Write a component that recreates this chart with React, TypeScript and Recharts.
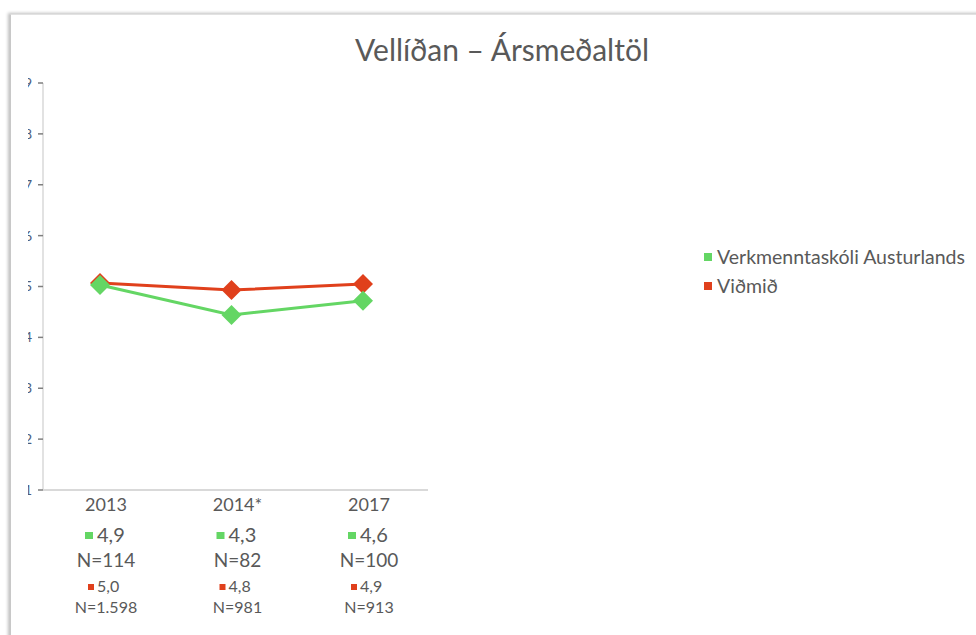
import * as React from 'react';
import { LineChart, Line, XAxis, YAxis } from 'recharts';

const YEARS = ['2013', '2014*', '2017'];
const SCHOOL = [5.03, 4.44, 4.72];
const NORM = [5.07, 4.93, 5.05];
const SCHOOL_LABEL = ['4,9', '4,3', '4,6'];
const SCHOOL_N = ['N=114', 'N=82', 'N=100'];
const NORM_LABEL = ['5,0', '4,8', '4,9'];
const NORM_N = ['N=1.598', 'N=981', 'N=913'];
const Y_TICKS = [1, 2, 3, 4, 5, 6, 7, 8, 9];

const GREEN = '#64d664';
const RED = '#e0401c';
const TEXT = '#595959';
const FONT = 'Lato, "Open Sans", sans-serif';

const chartData = YEARS.map((year, i) => ({
  year,
  school: SCHOOL[i],
  norm: NORM[i],
}));

function Diamond(color: string) {
  return (props: any) => {
    const { cx, cy, index } = props;
    if (cx == null || cy == null) return null;
    const r = 10;
    return (
      <polygon
        key={`d-${index}`}
        points={`${cx},${cy - r} ${cx + r},${cy} ${cx},${cy + r} ${cx - r},${cy}`}
        fill={color}
      />
    );
  };
}

function YearTick(props: any) {
  const { x, y, payload } = props;
  const i = payload.index;
  const cx = x + 6;
  return (
    <g fontFamily={FONT} fill={TEXT}>
      <text x={cx} y={y + 13} textAnchor="middle" fontSize={18}>{payload.value}</text>
      <rect x={cx - 21} y={y + 34} width={8} height={7} fill={GREEN} />
      <text x={cx - 9} y={y + 44} fontSize={20}>{SCHOOL_LABEL[i]}</text>
      <text x={cx} y={y + 69} textAnchor="middle" fontSize={19}>{SCHOOL_N[i]}</text>
      <rect x={cx - 18} y={y + 86} width={6} height={6} fill={RED} />
      <text x={cx - 9} y={y + 94} fontSize={16}>{NORM_LABEL[i]}</text>
      <text x={cx} y={y + 115} textAnchor="middle" fontSize={16}>{NORM_N[i]}</text>
    </g>
  );
}

export default function App(): React.ReactElement {
  return (
    <div style={{ position: 'absolute', left: 0, top: 0, width: 976, height: 635, background: '#fff', overflow: 'hidden' }}>
      <div
        style={{
          position: 'absolute',
          left: 10,
          top: 14,
          width: 1000,
          height: 700,
          background: '#fff',
          borderLeft: '1px solid #c8c8c8',
          borderTop: '1px solid #e2e2e2',
          boxShadow: '-2px -1px 3px rgba(0,0,0,0.25)',
        }}
      />
      <div
        style={{
          position: 'absolute',
          left: 0,
          top: 31,
          width: 1004,
          textAlign: 'center',
          fontFamily: FONT,
          fontSize: 30,
          color: TEXT,
        }}
      >
        Vellíðan – Ársmeðaltöl
      </div>
      {/* the y tick labels are clipped by the card edge in the original */}
      <div style={{ position: 'absolute', left: 28, top: 0, width: 948, height: 635, overflow: 'hidden' }}>
        <div style={{ position: 'absolute', left: -28, top: 0 }}>
          <LineChart
            width={976}
            height={635}
            data={chartData}
            margin={{ top: 83, right: 548, left: 13, bottom: 0 }}
          >
            <XAxis
              dataKey="year"
              padding={{ left: 57, right: 65 }}
              axisLine={{ stroke: '#d9d9d9', strokeWidth: 2 }}
              tickLine={false}
              tick={<YearTick />}
              interval={0}
              height={145}
            />
            <YAxis
              domain={[1, 9]}
              ticks={Y_TICKS}
              width={30}
              axisLine={{ stroke: '#d9d9d9', strokeWidth: 1.5 }}
              tickLine={{ stroke: '#7f7f7f', strokeWidth: 1.5 }}
              tickSize={5}
              tickMargin={6}
              tick={{ fill: '#4c5d7c', fontSize: 14, fontFamily: FONT }}
            />
            <Line
              dataKey="norm"
              stroke={RED}
              strokeWidth={3}
              dot={Diamond(RED)}
              activeDot={false}
              isAnimationActive={false}
            />
            <Line
              dataKey="school"
              stroke={GREEN}
              strokeWidth={3}
              dot={Diamond(GREEN)}
              activeDot={false}
              isAnimationActive={false}
            />
          </LineChart>
        </div>
      </div>
      <div style={{ position: 'absolute', left: 704, top: 242, fontFamily: FONT, fontSize: 19.5, color: TEXT, lineHeight: '29px' }}>
        <div style={{ display: 'flex', alignItems: 'center' }}>
          <span style={{ display: 'inline-block', width: 8, height: 8, background: GREEN, marginRight: 5 }} />
          Verkmenntaskóli Austurlands
        </div>
        <div style={{ display: 'flex', alignItems: 'center' }}>
          <span style={{ display: 'inline-block', width: 8, height: 8, background: RED, marginRight: 5 }} />
          Viðmið
        </div>
      </div>
    </div>
  );
}
